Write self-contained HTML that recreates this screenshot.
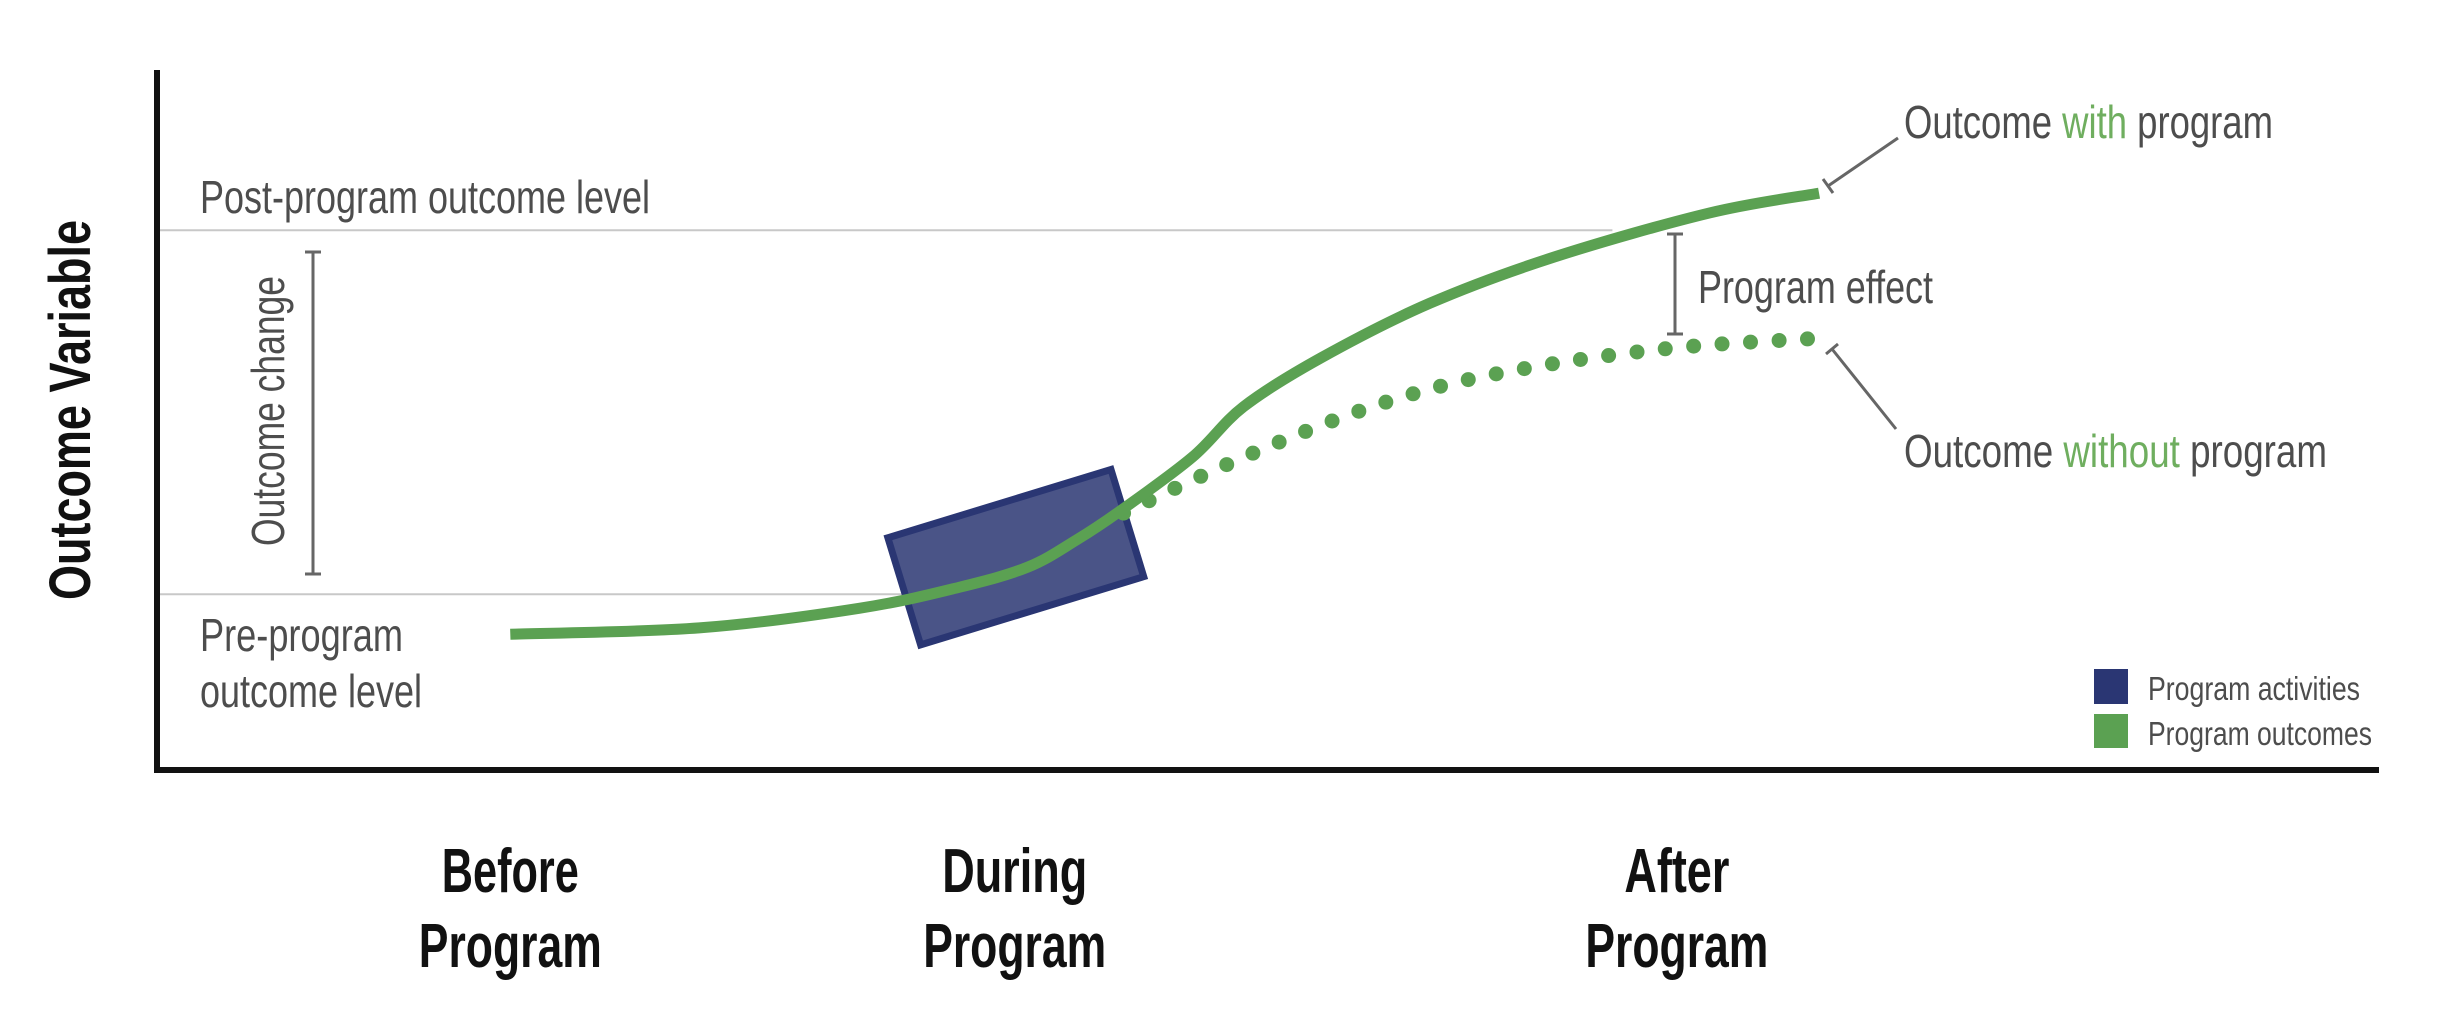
<!DOCTYPE html>
<html><head><meta charset="utf-8"><style>
html,body{margin:0;padding:0;background:#fff;}
svg{display:block;}
text{font-family:"Liberation Sans",sans-serif;}
</style></head><body>
<svg id="chart" width="2438" height="1032" viewBox="0 0 2438 1032" xmlns="http://www.w3.org/2000/svg">
<g id="grid"></g>
<g id="marks"></g>
<g id="annot">
  <text x="200" y="213" font-size="46" fill="#4d4d4d" textLength="450" lengthAdjust="spacingAndGlyphs">Post-program outcome level</text>
  <text x="200" y="651" font-size="46" fill="#4d4d4d" textLength="203" lengthAdjust="spacingAndGlyphs">Pre-program</text>
  <text x="200" y="707" font-size="46" fill="#4d4d4d" textLength="222" lengthAdjust="spacingAndGlyphs">outcome level</text>
  <text transform="translate(284,546) rotate(-90)" font-size="46" fill="#4d4d4d" textLength="270" lengthAdjust="spacingAndGlyphs">Outcome change</text>
  <g stroke="#666" stroke-width="3">
    <line x1="313" y1="252" x2="313" y2="574"/><line x1="305" y1="252" x2="321" y2="252"/><line x1="305" y1="574" x2="321" y2="574"/>
  </g>
  <text transform="translate(90,600) rotate(-90)" font-size="58" font-weight="bold" fill="#111" textLength="380" lengthAdjust="spacingAndGlyphs">Outcome Variable</text>
  <g stroke="#666" stroke-width="3">
    <line x1="1675" y1="234" x2="1675" y2="334"/><line x1="1667" y1="234" x2="1683" y2="234"/><line x1="1667" y1="334" x2="1683" y2="334"/>
  </g>
  <text x="1698" y="303" font-size="46" fill="#4d4d4d" textLength="235" lengthAdjust="spacingAndGlyphs">Program effect</text>
  <text x="1904" y="138" font-size="46" fill="#4d4d4d" textLength="369" lengthAdjust="spacingAndGlyphs">Outcome <tspan fill="#6fae5f">with</tspan> program</text>
  <text x="1904" y="467" font-size="46" fill="#4d4d4d" textLength="423" lengthAdjust="spacingAndGlyphs">Outcome <tspan fill="#6fae5f">without</tspan> program</text>
  <g stroke="#666" stroke-width="3">
    <line x1="1898" y1="138" x2="1828" y2="186"/><line x1="1823" y1="179" x2="1833" y2="193"/>
  </g>
  <g stroke="#666" stroke-width="3">
    <line x1="1896" y1="429" x2="1832" y2="349"/><line x1="1826" y1="354" x2="1838" y2="344"/>
  </g>
  <rect x="2094" y="669" width="34" height="35" fill="#2a3673"/>
  <rect x="2094" y="714" width="34" height="34" fill="#5ba152"/>
  <text x="2148" y="700" font-size="33" fill="#4d4d4d" textLength="212" lengthAdjust="spacingAndGlyphs">Program activities</text>
  <text x="2148" y="745" font-size="33" fill="#4d4d4d" textLength="224" lengthAdjust="spacingAndGlyphs">Program outcomes</text>
</g>
<g id="axes"></g>
</svg>
<script>
const phaseLabels = ["Before", "During", "After"];
const phaseLabelWidths = [137, 145, 105];
const phaseX = [15.9, 38.6, 68.4];
const withX = [15.9, 24.4, 31.6, 36.1, 39.2, 41.4, 43.3, 46.6, 48.9, 52.4, 57.3, 62.9, 69.9, 74.8];
const withY = [19.4, 20.3, 23.1, 26.1, 29.0, 32.9, 36.9, 44.7, 51.9, 58.9, 66.7, 73.3, 79.6, 82.4];
const withoutX = [43.5, 47.0, 50.7, 54.4, 58.1, 62.0, 65.8, 69.7, 74.9];
const withoutY = [36.7, 42.0, 47.1, 51.6, 55.1, 57.6, 59.4, 60.7, 61.7];
const preLevel = 25.1;
const postLevel = 77.1;
const activityStart = 33.4;
const activityEnd = 43.9;
const activityLevel = 30.4;

const X0 = 157, X1 = 2379, Y0 = 770, Y1 = 70;
const sx = v => X0 + v * (X1 - X0) / 100;
const sy = v => Y0 - v * (Y0 - Y1) / 100;
const NS = "http://www.w3.org/2000/svg";
function mk(tag, parent, attrs) {
  const e = document.createElementNS(NS, tag);
  for (const k in attrs) e.setAttribute(k, attrs[k]);
  parent.appendChild(e);
  return e;
}
function smooth(xs, ys) {
  const p = xs.map((x, i) => [sx(x), sy(ys[i])]);
  let d = "M" + p[0][0] + "," + p[0][1];
  for (let i = 0; i < p.length - 1; i++) {
    const a = p[Math.max(0, i - 1)], b = p[i], c = p[i + 1], e = p[Math.min(p.length - 1, i + 2)];
    const c1 = [b[0] + (c[0] - a[0]) / 6, b[1] + (c[1] - a[1]) / 6];
    const c2 = [c[0] - (e[0] - b[0]) / 6, c[1] - (e[1] - b[1]) / 6];
    d += " C" + c1 + " " + c2 + " " + c;
  }
  return d;
}
const grid = document.getElementById("grid");
const marks = document.getElementById("marks");
const axes = document.getElementById("axes");

const post = mk("line", grid, {x1: X0, x2: sx(65.5), y1: sy(postLevel), y2: sy(postLevel), stroke: "#c8c8c8", "stroke-width": 2});


const pre = mk("line", grid, {x1: X0, x2: sx(34), y1: sy(preLevel), y2: sy(preLevel), stroke: "#c8c8c8", "stroke-width": 2});



const cx = sx((activityStart + activityEnd) / 2), cy = sy(activityLevel);
const w = sx(activityEnd) - sx(activityStart), h = 112;
const box = mk("rect", marks, {x: cx - w / 2, y: cy - h / 2, width: w, height: h, fill: "#4a5487", stroke: "#2a3673", "stroke-width": 7, transform: "rotate(-17 " + cx + " " + cy + ")"});



const dotted = mk("path", marks, {d: smooth(withoutX, withoutY), fill: "none", stroke: "#5ba152", "stroke-width": 15, "stroke-linecap": "round", "stroke-dasharray": "0 28.5"});


const solid = mk("path", marks, {d: smooth(withX, withY), fill: "none", stroke: "#5ba152", "stroke-width": 11});



const yAxis = mk("line", axes, {x1: X0, x2: X0, y1: Y1, y2: Y0 + 3, stroke: "#111", "stroke-width": 6});


const xAxis = mk("line", axes, {x1: X0 - 3, x2: X1, y1: Y0, y2: Y0, stroke: "#111", "stroke-width": 6});



phaseLabels.forEach((lab, i) => {
  const t1 = mk("text", axes, {x: sx(phaseX[i]), y: 892, "text-anchor": "middle", "font-size": 62, "font-weight": "bold", fill: "#111", textLength: phaseLabelWidths[i], lengthAdjust: "spacingAndGlyphs"});
  t1.textContent = lab;
  
  
  const t2 = mk("text", axes, {x: sx(phaseX[i]), y: 967, "text-anchor": "middle", "font-size": 62, "font-weight": "bold", fill: "#111", textLength: 183, lengthAdjust: "spacingAndGlyphs"});
  t2.textContent = "Program";
  
  
});
</script>
</body></html>
